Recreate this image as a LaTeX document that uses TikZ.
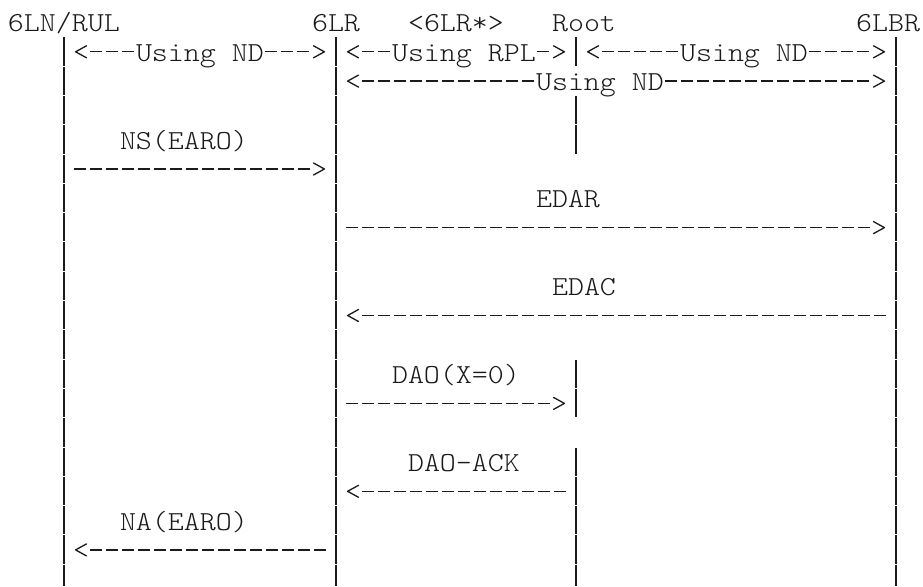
\documentclass[tikz,border=0pt]{standalone}
\usepackage{fontspec}
\newfontfamily\lmono{lmmonolt10-regular}[Extension=.otf, FakeStretch=1.108]
\definecolor{ink}{HTML}{1A1A1A}
\pgfdeclarearrow{
  name = Chev,
  setup code = {
    \pgfarrowssettipend{0pt}
    \pgfarrowssetbackend{-12pt}
    \pgfarrowssetlineend{-12pt}
    \pgfarrowshullpoint{0pt}{0pt}
    \pgfarrowsupperhullpoint{-12pt}{6pt}
  },
  drawing code = {
    \pgfsetdash{}{0pt}
    \pgfsetroundjoin
    \pgfsetroundcap
    \pgfpathmoveto{\pgfqpoint{-11.5pt}{6pt}}
    \pgfpathlineto{\pgfqpoint{-0.6pt}{0pt}}
    \pgfpathlineto{\pgfqpoint{-11.5pt}{-6pt}}
    \pgfusepathqstroke
  }
}
\tikzset{
  txt/.style={font=\lmono\fontsize{27.5pt}{30pt}\selectfont, anchor=base west,
              inner sep=0pt, outer sep=0pt, text=ink},
  life/.style={draw=ink, line width=1.6pt, dash pattern=on 28.3pt off 1pt},
  msg/.style={draw=ink, line width=1.3pt, dash pattern=on 12pt off 4pt, -Chev},
  msgR/.style={msg, shorten <=9.5pt, shorten >=11pt},
  msgL/.style={msg, shorten <=10.5pt, shorten >=11pt},
}
\begin{document}
\begin{tikzpicture}[x=1pt, y=-1pt]
\fill[white] (0,0) rectangle (923,586);
\useasboundingbox (0,0) rectangle (923,586);
% row helpers: r = dash height, t = bar top, e = bar bottom
\foreach \k in {0,...,19} {
  \coordinate (r\k) at (0, 22.5+29.3*\k);
  \coordinate (t\k) at (0, 8+29.3*\k);
  \coordinate (e\k) at (0, 36.3+29.3*\k);
}
\coordinate (bot) at (0,586);
% lifeline positions
\coordinate (A) at (64,0);
\coordinate (B) at (336,0);
\coordinate (C) at (576,0);
\coordinate (D) at (896,0);

% header
\node[txt] (hA) at (8, 32) {6LN/RUL};
\node[txt] (hB) at (312, 32) {6LR};
\node[txt] (hX) at (408, 32) {<6LR*>};
\node[txt] (hC) at (552, 32) {Root};
\node[txt] (hD) at (856, 32) {6LBR};

% lifelines
\draw[life] (A|-t1) -- (A|-bot);
\draw[life] (B|-t1) -- (B|-bot);
\draw[life] (D|-t1) -- (D|-bot);
\draw[life] (C|-t1) -- (C|-e1);
\draw[life] (C|-t3) -- (C|-e4);
\draw[life] (C|-t12) -- (C|-e13);
\draw[life] (C|-t15) -- (C|-bot);

% scope labels
\node[txt] (u1) at (136, 61.3) {Using ND};
\node[txt] (u2) at (392, 61.3) {Using RPL};
\node[txt] (u3) at (680, 61.3) {Using ND};
\node[txt] (u4) at (536, 90.6) {Using ND};
\draw[msg, shorten <=2.5pt, shorten >=11pt] (u1.west|-r1) -- (A|-r1);
\draw[msg, shorten <=1.5pt, shorten >=11pt] (u1.east|-r1) -- (B|-r1);
\draw[msg, shorten <=2.5pt, shorten >=11pt] (u2.west|-r1) -- (B|-r1);
\draw[msg, shorten <=1.5pt, shorten >=11pt] (u2.east|-r1) -- (C|-r1);
\draw[msg, shorten <=2.5pt, shorten >=11pt] (u3.west|-r1) -- (C|-r1);
\draw[msg, shorten <=1.5pt, shorten >=11pt] (u3.east|-r1) -- (D|-r1);
\draw[msg, shorten <=2.5pt, shorten >=11pt] (u4.west|-r2) -- (B|-r2);
\draw[msg, shorten <=1.5pt, shorten >=11pt] (u4.east|-r2) -- (D|-r2);

% messages
\node[txt] (ns) at (120, 149.2) {NS(EARO)};
\draw[msgR] (A|-r5) -- (B|-r5);
\node[txt] (edar) at (536, 207.8) {EDAR};
\draw[msgR] (B|-r7) -- (D|-r7);
\node[txt] (edac) at (552, 295.7) {EDAC};
\draw[msgL] (D|-r10) -- (B|-r10);
\node[txt] (dao) at (392, 383.6) {DAO(X=0)};
\draw[msgR] (B|-r13) -- (C|-r13);
\node[txt] (daoack) at (408, 471.5) {DAO-ACK};
\draw[msgL] (C|-r16) -- (B|-r16);
\node[txt] (na) at (120, 530.1) {NA(EARO)};
\draw[msgL] (B|-r18) -- (A|-r18);
\end{tikzpicture}
\end{document}
